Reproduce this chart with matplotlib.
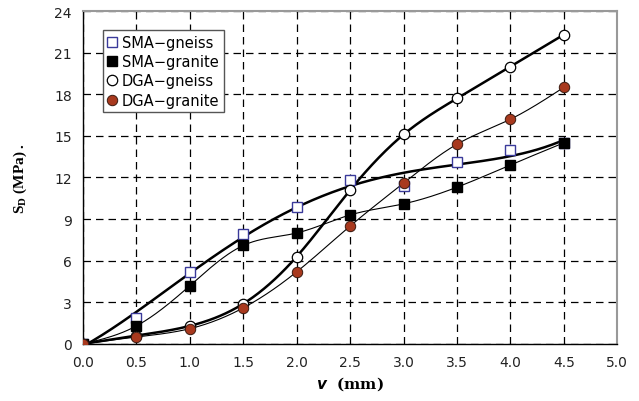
import numpy as np
import matplotlib.pyplot as plt

# displacement v (mm) and shear strength S_D (MPa)
v = [0.0, 0.5, 1.0, 1.5, 2.0, 2.5, 3.0, 3.5, 4.0, 4.5]
sma_gneiss = [0.0, 1.9, 5.2, 7.9, 9.9, 11.8, 11.4, 13.1, 14.0, 14.5]
sma_granite = [0.0, 1.3, 4.2, 7.1, 8.0, 9.3, 10.1, 11.3, 12.9, 14.5]
dga_gneiss = [0.0, 0.6, 1.3, 2.9, 6.3, 11.1, 15.1, 17.7, 20.0, 22.3]
dga_granite = [0.0, 0.5, 1.1, 2.6, 5.2, 8.5, 11.6, 14.4, 16.2, 18.5]

x_ticks = [0.0, 0.5, 1.0, 1.5, 2.0, 2.5, 3.0, 3.5, 4.0, 4.5, 5.0]
y_ticks = [0, 3, 6, 9, 12, 15, 18, 21, 24]


def spline(xp, yp, n=40):
    # natural cubic spline through the points
    x = np.asarray(xp, float)
    y = np.asarray(yp, float)
    k = len(x)
    h = np.diff(x)
    A = np.zeros((k, k))
    r = np.zeros(k)
    A[0, 0] = A[-1, -1] = 1.0
    for i in range(1, k - 1):
        A[i, i - 1] = h[i - 1]
        A[i, i] = 2 * (h[i - 1] + h[i])
        A[i, i + 1] = h[i]
        r[i] = 6 * ((y[i + 1] - y[i]) / h[i] - (y[i] - y[i - 1]) / h[i - 1])
    m = np.linalg.solve(A, r)
    xs, ys = [], []
    for i in range(k - 1):
        t = np.linspace(x[i], x[i + 1], n)
        a = (x[i + 1] - t) / h[i]
        b = (t - x[i]) / h[i]
        s = (a * y[i] + b * y[i + 1]
             + ((a ** 3 - a) * m[i] + (b ** 3 - b) * m[i + 1]) * h[i] ** 2 / 6)
        xs.append(t)
        ys.append(s)
    return np.concatenate(xs), np.concatenate(ys)


fig = plt.figure(figsize=(6.39, 4.02), dpi=100)
ax = fig.add_axes([0.130, 0.142, 0.836, 0.828])

# SMA-gneiss trend: polynomial fit
xs = np.linspace(0, 4.5, 200)
fit = np.polyval(np.polyfit(v, sma_gneiss, 4), xs)
fit[0] = 0.0
ax.plot(xs, fit, color='black', lw=1.8, zorder=2)

# other series: smooth curves through the points
for ys, lw in [(dga_gneiss, 1.8), (sma_granite, 0.8), (dga_granite, 0.8)]:
    sx, sy = spline(v, ys)
    ax.plot(sx, sy, color='black', lw=lw, zorder=2)

ax.plot(v, sma_gneiss, ls='none', marker='s', ms=7.5, mfc='white',
        mec='#3a3a9a', mew=1.0, label='SMA\u2212gneiss', zorder=3)
ax.plot(v, sma_granite, ls='none', marker='s', ms=7.5, mfc='black',
        mec='black', label='SMA\u2212granite', zorder=3)
ax.plot(v, dga_gneiss, ls='none', marker='o', ms=7.5, mfc='white',
        mec='black', mew=0.9, label='DGA\u2212gneiss', zorder=3)
ax.plot(v, dga_granite, ls='none', marker='o', ms=7.5, mfc='#a8391e',
        mec='#3a1a10', mew=0.7, label='DGA\u2212granite', zorder=3)

ax.set_xlim(0, 5)
ax.set_ylim(0, 24)
ax.set_xticks(x_ticks)
ax.set_xticklabels([f'{t:.1f}' for t in x_ticks])
ax.set_yticks(y_ticks)
ax.tick_params(length=0, labelsize=10, labelcolor='#222222', pad=8)
ax.grid(True, color='black', ls=(0, (6, 4)), lw=0.9)
ax.set_axisbelow(True)
for s in ['top', 'right']:
    ax.spines[s].set_color('#999999')
    ax.spines[s].set_linewidth(1.5)
for s in ['left', 'bottom']:
    ax.spines[s].set_linewidth(1.0)

ax.set_xlabel(r'$\boldsymbol{v}$  (mm)', fontsize=11, fontweight='bold',
              family='DejaVu Serif', labelpad=4)
ax.set_ylabel(r'S$_\mathregular{D}$ (MPa) .', fontsize=11, fontweight='bold',
              family='Liberation Serif', labelpad=18)

leg = ax.legend(loc='upper left', bbox_to_anchor=(0.037, 0.942), fontsize=10.5,
                handlelength=0.7, handletextpad=0.3, borderpad=0.3,
                labelspacing=0.3, fancybox=False, framealpha=1,
                edgecolor='#555555', borderaxespad=0)
leg.get_frame().set_linewidth(1.0)

fig.savefig('out.png', dpi=100)
